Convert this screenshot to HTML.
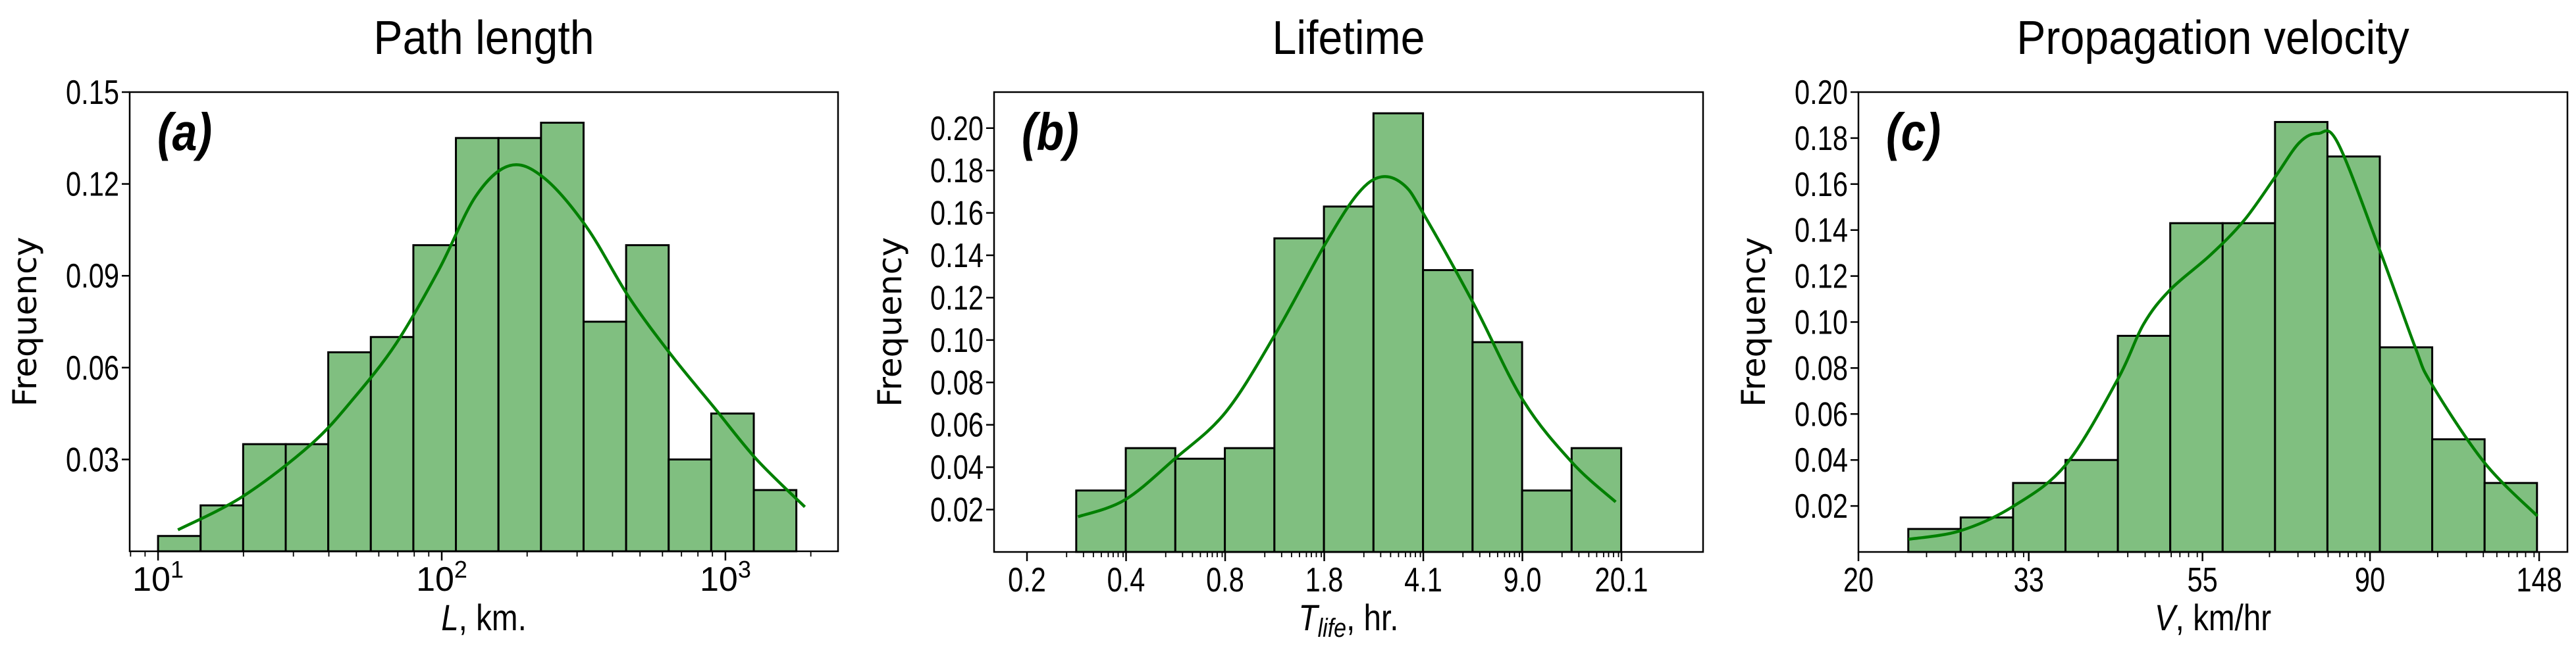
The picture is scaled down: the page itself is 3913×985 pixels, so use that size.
<!DOCTYPE html>
<html><head><meta charset="utf-8"><style>
html,body{margin:0;padding:0;background:#fff;}
svg text{font-family:"Liberation Sans Narrow","Liberation Sans",sans-serif;}
</style></head><body>
<svg id="fig" width="3913" height="980" viewBox="0 0 3913 980" xmlns="http://www.w3.org/2000/svg"></svg>
<script>
// ---- Panel (a): Path length (log10 km)
const aEdgeStart = 1.0, aBinWidth = 0.15;
const aFreq = [0.005,0.015,0.035,0.035,0.065,0.07,0.1,0.135,0.135,0.14,0.075,0.1,0.03,0.045,0.02];
const aKdeX = [1.07,1.30,1.54,1.69,1.84,1.99,2.12,2.24,2.36,2.51,2.66,2.81,2.96,3.11,3.28];
const aKdeY = [0.007,0.018,0.035,0.050,0.068,0.092,0.116,0.126,0.122,0.106,0.083,0.064,0.047,0.030,0.0145];
const aYTicks = [0.03,0.06,0.09,0.12,0.15];
const aXTicks = [1,2,3];
// ---- Panel (b): Lifetime
const bEdgeStart = -0.568, bBinWidth = 0.17;
const bFreq = [0.029,0.049,0.044,0.049,0.148,0.163,0.207,0.133,0.099,0.029,0.049];
const bKdeX = [-0.562,-0.402,-0.232,-0.055,0.116,0.285,0.398,0.479,0.558,0.626,0.796,0.965,1.135,1.283];
const bKdeY = [0.0166,0.0245,0.0437,0.066,0.103,0.145,0.169,0.177,0.173,0.159,0.117,0.0716,0.042,0.0236];
const bYTicks = [0.02,0.04,0.06,0.08,0.10,0.12,0.14,0.16,0.18,0.20];
const bXTickPos = [-0.737,-0.397,-0.057,0.283,0.623,0.963,1.303];
const bXTickLabels = ["0.2","0.4","0.8","1.8","4.1","9.0","20.1"];
// ---- Panel (c): Propagation velocity
const cEdgeStart = 1.3647, cBinWidth = 0.0669;
const cFreq = [0.01,0.015,0.03,0.04,0.094,0.143,0.143,0.187,0.172,0.089,0.049,0.03];
const cKdeX = [1.365,1.431,1.498,1.566,1.632,1.665,1.699,1.750,1.793,1.833,1.864,1.888,1.913,1.967,2.012,2.033,2.100,2.168];
const cKdeY = [0.0055,0.0092,0.0197,0.038,0.075,0.099,0.114,0.129,0.144,0.163,0.178,0.182,0.178,0.131,0.089,0.073,0.039,0.0156];
const cYTicks = [0.02,0.04,0.06,0.08,0.10,0.12,0.14,0.16,0.18,0.20];
const cXTickVals = [20,33,55,90,148];

const NS = "http://www.w3.org/2000/svg";
const svg = document.getElementById('fig');
function mk(tag, attrs, parent, text){
  const e = document.createElementNS(NS, tag);
  for (const k in attrs) e.setAttribute(k, attrs[k]);
  if (text !== undefined) e.textContent = text;
  (parent || svg).appendChild(e);
  return e;
}
function narrow(t, f){
  const w = t.getComputedTextLength();
  if (w > 0) { t.setAttribute('textLength', (w * f).toFixed(1)); t.setAttribute('lengthAdjust', 'spacingAndGlyphs'); }
}
const minorFrac = [0.40,0.57,0.67,0.75,0.82,0.87,0.92,0.97];

function panel(p){
  const g = mk('g', {});
  
  
  const X = v => p.L + (v - p.x0) / (p.x1 - p.x0) * (p.R - p.L);
  const Y = v => p.B - (v - p.y0) / (p.y1 - p.y0) * (p.B - p.T);
  p.freq.forEach((f, i) => {
    const xa = X(p.edge + i * p.bw), xb = X(p.edge + (i + 1) * p.bw);
    const r = mk('rect', {x: xa, y: Y(f), width: xb - xa, height: Y(0) - Y(f), fill: '#80bf80', stroke: '#000', 'stroke-width': 3}, g);
    
    
  });
  const pts = p.kx.map((x, i) => [X(x), Y(p.ky[i])]);
  let d = 'M' + pts[0][0] + ',' + pts[0][1];
  for (let i = 0; i < pts.length - 1; i++) {
    const p0 = pts[Math.max(0, i - 1)], p1 = pts[i], p2 = pts[i + 1], p3 = pts[Math.min(pts.length - 1, i + 2)];
    const c1 = [p1[0] + (p2[0] - p0[0]) / 6, p1[1] + (p2[1] - p0[1]) / 6];
    const c2 = [p2[0] - (p3[0] - p1[0]) / 6, p2[1] - (p3[1] - p1[1]) / 6];
    d += ' C' + c1 + ' ' + c2 + ' ' + p2;
  }
  const k = mk('path', {d: d, fill: 'none', stroke: '#008000', 'stroke-width': 4.5}, g);
  
  
  const fr = mk('rect', {x: p.L, y: p.T, width: p.R - p.L, height: p.B - p.T, fill: 'none', stroke: '#000', 'stroke-width': 2.5}, g);
  
  
  p.yt.forEach(v => {
    mk('line', {x1: p.L - 12, x2: p.L, y1: Y(v), y2: Y(v), stroke: '#000', 'stroke-width': 2.5}, g);
    const t = mk('text', {x: p.L - 16, y: Y(v) + 18, 'text-anchor': 'end', 'font-size': 52}, g, v.toFixed(2));
    
    
    narrow(t, 0.8);
  });
  p.xt.forEach((v, i) => {
    mk('line', {x1: X(v), x2: X(v), y1: p.B, y2: p.B + 14, stroke: '#000', 'stroke-width': 2.5}, g);
    const t = mk('text', {x: X(v), y: p.B + 60, 'text-anchor': 'middle', 'font-size': 52}, g);
    
    
    if (p.sup) {
      mk('tspan', {}, t, '10');
      mk('tspan', {dy: -20, 'font-size': 36}, t, String(p.xl[i]));
    } else { t.textContent = p.xl[i]; narrow(t, 0.8); }
  });
  p.minor.forEach(v => {
    const x = X(v);
    if (x > p.L + 1 && x < p.R - 1) mk('line', {x1: x, x2: x, y1: p.B, y2: p.B + 8, stroke: '#000', 'stroke-width': 1.8}, g);
  });
  const yl = mk('text', {x: 0, y: 0, transform: 'translate(' + p.ylx + ',' + ((p.T + p.B) / 2) + ') rotate(-90)', 'text-anchor': 'middle', 'font-size': 50, style: 'font-family:"DejaVu Sans",sans-serif'}, g, 'Frequency');
  
  
  const xl = mk('text', {x: (p.L + p.R) / 2, y: 958, 'text-anchor': 'middle', 'font-size': 56}, g);
  
  
  p.xlabel(xl);
  narrow(xl, 0.85);
  const ti = mk('text', {x: (p.L + p.R) / 2, y: 82, 'text-anchor': 'middle', 'font-size': 72, style: 'font-family:"Liberation Sans",sans-serif'}, g, p.title);
  
  
  narrow(ti, 0.92);
  const pl = mk('text', {x: p.L + 42, y: p.T + 88, 'font-size': 80, 'font-weight': 'bold', 'font-style': 'italic', style: 'font-family:"Liberation Sans",sans-serif'}, g, p.tag);
  
  
  narrow(pl, 0.85);
}

const aMinor = [];
for (let e = 0; e <= 3; e++) for (let m = 2; m <= 9; m++) aMinor.push(e + Math.log10(m));
const bMinor = [];
for (let i = 0; i < bXTickPos.length - 1; i++) minorFrac.forEach(f => bMinor.push(bXTickPos[i] + f * (bXTickPos[i + 1] - bXTickPos[i])));
const cTickLog = cXTickVals.map(v => Math.log10(v));
const cMinor = [];
for (let i = 0; i < cTickLog.length - 1; i++) minorFrac.forEach(f => cMinor.push(cTickLog[i] + f * (cTickLog[i + 1] - cTickLog[i])));

panel({id: 'a', L: 197, R: 1273, T: 140, B: 838, x0: 0.9, x1: 3.397, y0: 0, y1: 0.15,
  edge: aEdgeStart, bw: aBinWidth, freq: aFreq, kx: aKdeX, ky: aKdeY, yt: aYTicks,
  xt: aXTicks, xl: aXTicks, sup: true, minor: aMinor, ylx: 55, title: 'Path length', tag: '(a)',
  xlabel: t => { mk('tspan', {'font-style': 'italic'}, t, 'L'); mk('tspan', {}, t, ', km.'); }});
panel({id: 'b', L: 1510, R: 2587, T: 140, B: 839, x0: -0.850, x1: 1.583, y0: 0, y1: 0.217,
  edge: bEdgeStart, bw: bBinWidth, freq: bFreq, kx: bKdeX, ky: bKdeY, yt: bYTicks,
  xt: bXTickPos, xl: bXTickLabels, sup: false, minor: bMinor, ylx: 1369, title: 'Lifetime', tag: '(b)',
  xlabel: t => { mk('tspan', {'font-style': 'italic'}, t, 'T'); mk('tspan', {'font-style': 'italic', 'font-size': 40, dy: 10}, t, 'life'); mk('tspan', {dy: -10}, t, ', hr.'); }});
panel({id: 'c', L: 2823, R: 3900, T: 140, B: 839, x0: Math.log10(20), x1: Math.log10(20) + 1077 / 1189.6, y0: 0, y1: 0.2,
  edge: cEdgeStart, bw: cBinWidth, freq: cFreq, kx: cKdeX, ky: cKdeY, yt: cYTicks,
  xt: cTickLog, xl: cXTickVals.map(String), sup: false, minor: cMinor, ylx: 2681, title: 'Propagation velocity', tag: '(c)',
  xlabel: t => { mk('tspan', {'font-style': 'italic'}, t, 'V'); mk('tspan', {}, t, ', km/hr'); }});
</script>
</body></html>
